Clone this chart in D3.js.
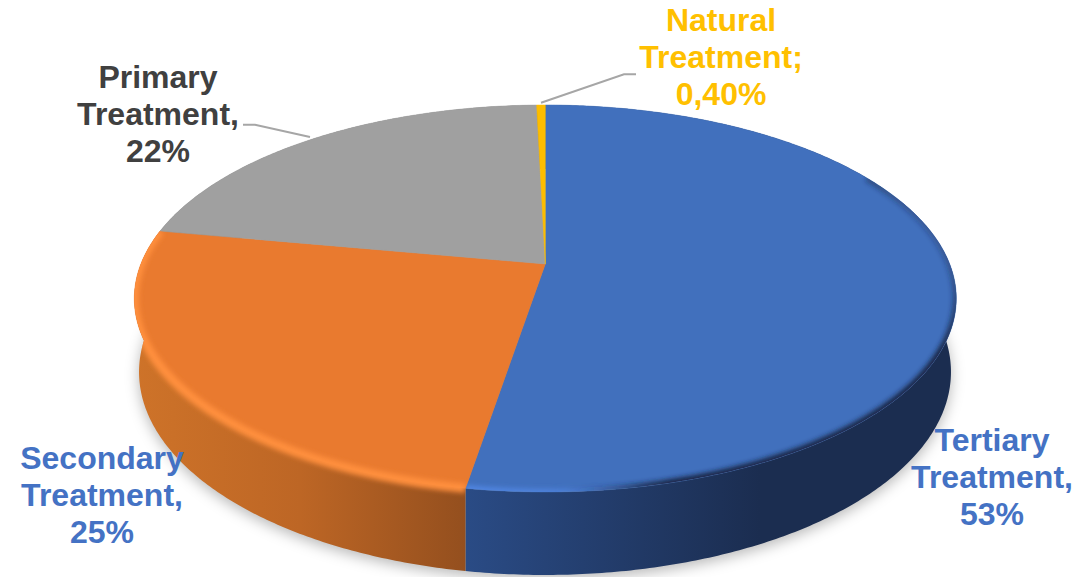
<!DOCTYPE html>
<html><head><meta http-equiv="Content-Type" content="text/html; charset=UTF-8">
<style>
html, body { margin: 0; background: #fff; overflow: hidden; }
text { font-family: "Liberation Sans", Arial, sans-serif; font-weight: bold; font-size: 32px; text-anchor: middle; }
.leader { fill: none; stroke: #a6a6a6; stroke-width: 2px; }
</style>
</head>
<body>
<svg width="1091" height="577"></svg>
<script src="https://cdn.jsdelivr.net/npm/d3@7"></script>
<script>

var categories = ["Tertiary Treatment", "Secondary Treatment", "Primary Treatment", "Natural Treatment"];
var values = [52.6, 25.3, 21.7, 0.4];
var labelLines = [
    ["Tertiary", "Treatment,", "53%"],
    ["Secondary", "Treatment,", "25%"],
    ["Primary", "Treatment,", "22%"],
    ["Natural", "Treatment;", "0,40%"]
];

var topColors = ["#4170bd", "#e97a2f", "#a0a0a0", "#fdbd00"];
var labelColors = ["#4472c4", "#4472c4", "#404040", "#ffc000"];
var labelPos = [[992, 451], [102, 469], [158, 88], [721, 31]];

// perspective of the disc: top face and bottom face
var topFace = {cx: 545.3, ay: 264, rx: 404.4, ry: 187.35, k: 0.1783};
var botFace = {cx: 545, ay: 334, rx: 398.8, ry: 195.9, k: 0.187};

function project(f, a) {
    var u = Math.sin(a), v = -Math.cos(a), w = 1 - f.k * v;
    return [f.cx + f.rx * u / w, f.ay + f.ry * v / w];
}

function arcPoints(f, a0, a1) {
    var n = Math.max(2, Math.ceil(Math.abs(a1 - a0) / 0.01));
    return d3.range(n + 1).map(function(i) { return project(f, a0 + (a1 - a0) * i / n); });
}

var line = d3.line();
var deg = Math.PI / 180;
var pie = d3.pie().sort(null).value(function(d) { return d; });
var slices = pie(values);

var svg = d3.select("svg");
var defs = svg.append("defs");

function hGrad(id, x1, x2, stops) {
    var g = defs.append("linearGradient").attr("id", id).attr("gradientUnits", "userSpaceOnUse")
        .attr("x1", x1).attr("x2", x2).attr("y1", 0).attr("y2", 0);
    stops.forEach(function(s) { g.append("stop").attr("offset", s[0]).attr("stop-color", s[1]); });
}
hGrad("wall0", 466, 760, [[0, "#2a4b85"], [1, "#1b2d50"]]);
hGrad("wall1", 134, 466, [[0, "#ce7329"], [0.5, "#bd6625"], [1, "#944f1e"]]);
hGrad("wall2", 134, 956, [[0, "#7a7a7a"], [1, "#7a7a7a"]]);
hGrad("wall3", 134, 956, [[0, "#a07800"], [1, "#a07800"]]);

var edge = defs.append("linearGradient").attr("id", "edgeDark").attr("gradientUnits", "userSpaceOnUse")
    .attr("x1", 570).attr("y1", 495).attr("x2", 945).attr("y2", 205);
[[0, 0], [0.18, 1], [0.8, 1], [1, 0]].forEach(function(s) {
    edge.append("stop").attr("offset", s[0]).attr("stop-color", "#16233f").attr("stop-opacity", s[1]);
});
var lit = defs.append("linearGradient").attr("id", "edgeLit").attr("gradientUnits", "userSpaceOnUse")
    .attr("x1", 465).attr("y1", 0).attr("x2", 640).attr("y2", 0);
[[0, 1], [0.45, 0.8], [1, 0]].forEach(function(s) {
    lit.append("stop").attr("offset", s[0]).attr("stop-color", "#5288e6").attr("stop-opacity", s[1]);
});

defs.append("filter").attr("id", "soft").attr("x", "-10%").attr("y", "-10%").attr("width", "120%").attr("height", "120%")
    .append("feGaussianBlur").attr("stdDeviation", 2.6);
defs.append("filter").attr("id", "shadow").attr("x", "-10%").attr("y", "-10%").attr("width", "120%").attr("height", "120%")
    .append("feGaussianBlur").attr("stdDeviation", 7);

function slicePath(d) {
    return line(arcPoints(topFace, d.startAngle, d.endAngle).concat([[topFace.cx, topFace.ay]])) + "Z";
}
function wallPath(d) {
    return line(arcPoints(topFace, d.startAngle, d.endAngle).concat(arcPoints(botFace, d.endAngle, d.startAngle))) + "Z";
}

defs.append("clipPath").attr("id", "clipTop0").append("path").attr("d", slicePath(slices[0]));
var clip1 = defs.append("clipPath").attr("id", "clipOrange");
clip1.append("path").attr("d", slicePath(slices[1]));
clip1.append("path").attr("d", wallPath(slices[1]));

// soft shadow under the disc
svg.append("path")
    .attr("d", line(arcPoints(botFace, 0, 2 * Math.PI)) + "Z")
    .attr("transform", "translate(0,4)")
    .attr("fill", "#000").attr("fill-opacity", 0.28)
    .attr("filter", "url(#shadow)");

svg.append("g").selectAll("path").data(slices).enter().append("path")
    .attr("d", wallPath)
    .attr("fill", function(d, i) { return "url(#wall" + i + ")"; });

svg.append("g").selectAll("path").data(slices).enter().append("path")
    .attr("d", slicePath)
    .attr("fill", function(d, i) { return topColors[i]; })
    .attr("stroke", function(d, i) { return topColors[i]; })
    .attr("stroke-width", 0.5);

// bevel on the rim
svg.append("g").attr("clip-path", "url(#clipOrange)").append("path")
    .attr("d", line(arcPoints(topFace, slices[1].startAngle, slices[1].endAngle)))
    .attr("fill", "none").attr("stroke", "#ff8f3d").attr("stroke-width", 9)
    .attr("filter", "url(#soft)");

var rimBlue = svg.append("g").attr("clip-path", "url(#clipTop0)");
rimBlue.append("path")
    .attr("d", line(arcPoints(topFace, 60 * deg, slices[0].endAngle)))
    .attr("fill", "none").attr("stroke", "url(#edgeDark)").attr("stroke-width", 7)
    .attr("filter", "url(#soft)");
rimBlue.append("path")
    .attr("d", line(arcPoints(topFace, 165 * deg, slices[0].endAngle)))
    .attr("fill", "none").attr("stroke", "url(#edgeLit)").attr("stroke-width", 6)
    .attr("filter", "url(#soft)");

// leader lines
svg.append("path").attr("class", "leader").attr("d", line([[243, 124.7], [255, 124.7], [310, 137]]));
svg.append("path").attr("class", "leader").attr("d", line([[636, 74.3], [624, 74.3], [541, 102.7]]));

var labels = svg.append("g").selectAll("text").data(categories).enter().append("text")
    .attr("aria-label", function(d) { return d; })
    .attr("fill", function(d, i) { return labelColors[i]; })
    .attr("transform", function(d, i) { return "translate(" + labelPos[i] + ")"; });

labels.selectAll("tspan").data(function(d, i) { return labelLines[i]; }).enter().append("tspan")
    .attr("x", 0)
    .attr("y", function(d, i) { return i * 37; })
    .text(function(d) { return d; });

</script>
</body></html>
